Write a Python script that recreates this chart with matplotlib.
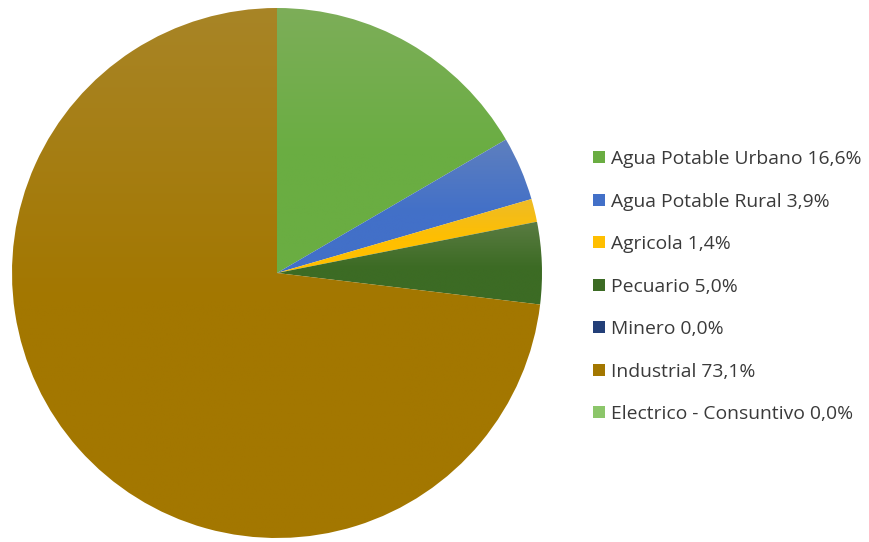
import numpy as np
import matplotlib
matplotlib.use("Agg")
import matplotlib.pyplot as plt
from matplotlib.colors import to_rgb
from matplotlib.patches import Patch

categories = ["Agua Potable Urbano", "Agua Potable Rural", "Agricola", "Pecuario",
              "Minero", "Industrial", "Electrico - Consuntivo"]
values = [16.6, 3.9, 1.4, 5.0, 0.0, 73.1, 0.0]
labels = ["Agua Potable Urbano 16,6%", "Agua Potable Rural 3,9%", "Agricola 1,4%",
          "Pecuario 5,0%", "Minero 0,0%", "Industrial 73,1%", "Electrico - Consuntivo 0,0%"]
colors = ["#6AAD42", "#4270C8", "#FFBF00", "#3C6B24", "#233F78", "#A37700", "#8CC66A"]

W, H = 869, 542
fig = plt.figure(figsize=(W / 100, H / 100), dpi=100)
fig.patch.set_facecolor("white")

cx, cy, r = 277, 273, 265
ax = fig.add_axes([(cx - r) / W, (H - cy - r) / H, 2 * r / W, 2 * r / H])

wedges, _ = ax.pie(values, colors=colors, startangle=90, counterclock=False,
                   radius=1, wedgeprops=dict(linewidth=0))

grey = np.array(to_rgb("#B8B0A0"))
for w, c, v in zip(wedges, colors, values):
    if v <= 0:
        continue
    base = np.array(to_rgb(c))
    ext = w.get_path().get_extents(w.get_transform() - ax.transData)
    x0, y0, x1, y1 = ext.x0, ext.y0, ext.x1, ext.y1
    n = 256
    t = np.linspace(0, 1, n)[:, None]  # 0 top -> 1 bottom
    amt = np.clip(1 - t / 0.55, 0, 1) * 0.24
    img = base[None, :] * (1 - amt) + grey[None, :] * amt
    img = np.repeat(img[:, None, :], 2, axis=1)
    im = ax.imshow(img, extent=[x0, x1, y0, y1], origin="upper", aspect="auto",
                   interpolation="bilinear", zorder=w.get_zorder() + 0.1)
    im.set_clip_path(w)
    w.set_facecolor("none")

ax.set_xlim(-1, 1)
ax.set_ylim(-1, 1)
ax.set_aspect("equal")
ax.axis("off")

handles = [Patch(facecolor=c, edgecolor="none") for c in colors]
leg = fig.legend(handles, labels, loc="upper left", bbox_to_anchor=(593 / W, 1 - 150 / H),
                 frameon=False, prop=dict(family="Open Sans", size=13.9),
                 handlelength=0.6, handleheight=0.6, handletextpad=0.33,
                 labelspacing=1.27, borderaxespad=0, borderpad=0)
for t in leg.get_texts():
    t.set_color("#3A3A3A")

fig.savefig("out.png", dpi=100, facecolor="white")
